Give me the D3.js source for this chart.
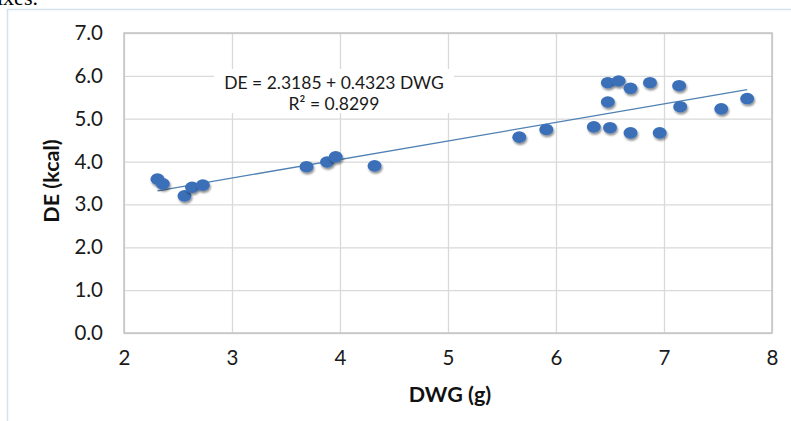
<!DOCTYPE html>
<html><head><meta charset="utf-8">
<script src="https://cdn.jsdelivr.net/npm/d3@7"></script>
<style>
html,body{margin:0;padding:0;background:#fff;overflow:hidden}
svg{display:block}
</style></head>
<body>
<script>
const dwg = [2.31,2.36,2.56,2.63,2.73,3.69,3.88,3.96,4.32,5.66,5.91,6.35,6.48,6.58,6.48,6.50,6.69,6.69,6.87,6.96,7.14,7.15,7.53,7.77];
const de  = [3.59,3.48,3.20,3.40,3.45,3.88,3.99,4.11,3.90,4.57,4.75,4.81,5.84,5.88,5.39,4.79,5.71,4.67,5.84,4.67,5.77,5.28,5.23,5.47];
const xTicks = [2,3,4,5,6,7,8];
const yTicks = [0,1,2,3,4,5,6,7];
const intercept = 2.3185, slope = 0.4323;
const eqLines = ["DE = 2.3185 + 0.4323 DWG", "R² = 0.8299"];
const xTitle = "DWG (g)", yTitle = "DE (kcal)";

const W = 791, H = 421;
const svg = d3.select("body").append("svg").attr("width", W).attr("height", H);
const defs = svg.append("defs");
const f = defs.append("filter").attr("id","sh").attr("x","-50%").attr("y","-50%").attr("width","200%").attr("height","200%");
f.append("feGaussianBlur").attr("in","SourceAlpha").attr("stdDeviation",1.3).attr("result","b");
f.append("feOffset").attr("in","b").attr("dx",1).attr("dy",2).attr("result","o");
f.append("feComponentTransfer").attr("in","o").attr("result","o2").append("feFuncA").attr("type","linear").attr("slope",0.45);
const mg = f.append("feMerge"); mg.append("feMergeNode").attr("in","o2"); mg.append("feMergeNode").attr("in","SourceGraphic");

// page residue text
svg.append("text").attr("x",-3).attr("y",5).attr("font-family","Liberation Serif").attr("font-size",22).attr("fill","#000").text("ixes.");
// outer chart frame
svg.append("rect").attr("x",7.5).attr("y",9.5).attr("width",W+10).attr("height",H).attr("fill","#fff").attr("stroke","#d6e1ec").attr("stroke-width",1.5);

const x = d3.scaleLinear().domain([2,8]).range([124,772]);
const y = d3.scaleLinear().domain([0,7]).range([333,33]);

const font = "Lato, 'Open Sans', sans-serif";
// gridlines
const gx = svg.append("g").attr("transform","translate(0,333)").call(d3.axisBottom(x).tickValues(xTicks).tickSize(-300).tickFormat(""));
const gy = svg.append("g").attr("transform","translate(124,0)").call(d3.axisLeft(y).tickValues(yTicks).tickSize(-648).tickFormat(""));
[gx,gy].forEach(g=>{g.select(".domain").remove(); g.selectAll("line").attr("stroke","#d9d9d9").attr("stroke-width",1.3);});
// plot border
svg.append("rect").attr("x",124).attr("y",33).attr("width",648).attr("height",300).attr("fill","none").attr("stroke","#c4c4c4").attr("stroke-width",1.5);

// tick labels
const xl = svg.append("g").attr("transform","translate(0,347)").call(d3.axisBottom(x).tickValues(xTicks).tickSize(0).tickFormat(d3.format("d")));
xl.select(".domain").remove();
xl.selectAll("text").attr("font-family",font).attr("font-size",20.5).attr("fill","#1a1a1a").attr("dy","0.75em");
const yl = svg.append("g").attr("transform","translate(103,0)").call(d3.axisLeft(y).tickValues(yTicks).tickSize(0).tickPadding(0).tickFormat(d3.format(".1f")));
yl.select(".domain").remove();
yl.selectAll("text").attr("font-family",font).attr("font-size",20.5).attr("fill","#1a1a1a");

// titles
svg.append("text").attr("x",450).attr("y",402).attr("text-anchor","middle").attr("font-family",font).attr("font-weight","bold").attr("font-size",21.5).attr("fill","#111").text(xTitle);
svg.append("text").attr("transform","translate(59,181) rotate(-90)").attr("text-anchor","middle").attr("font-family",font).attr("font-weight","bold").attr("font-size",21.5).attr("fill","#111").text(yTitle);

// trendline
const x0 = d3.min(dwg), x1 = d3.max(dwg);
svg.append("line").attr("x1",x(x0)).attr("y1",y(intercept+slope*x0)).attr("x2",x(x1)).attr("y2",y(intercept+slope*x1))
  .attr("stroke","#4f81b3").attr("stroke-width",1.3);

// equation label
svg.append("rect").attr("x",214).attr("y",69).attr("width",240).attr("height",44).attr("fill","#fff");
const eq = svg.append("text").attr("font-family",font).attr("font-size",17.5).attr("fill","#1a1a1a").attr("text-anchor","middle");
eq.selectAll("tspan").data(eqLines).join("tspan").attr("x",334).attr("y",(d,i)=>89+i*21).text(d=>d);

// markers
svg.append("g").selectAll("ellipse").data(dwg.map((d,i)=>[d,de[i]])).join("ellipse")
  .attr("cx",d=>x(d[0])).attr("cy",d=>y(d[1])).attr("rx",7).attr("ry",5.8)
  .attr("fill","#3a70b8").attr("filter","url(#sh)");
</script>
</body></html>
